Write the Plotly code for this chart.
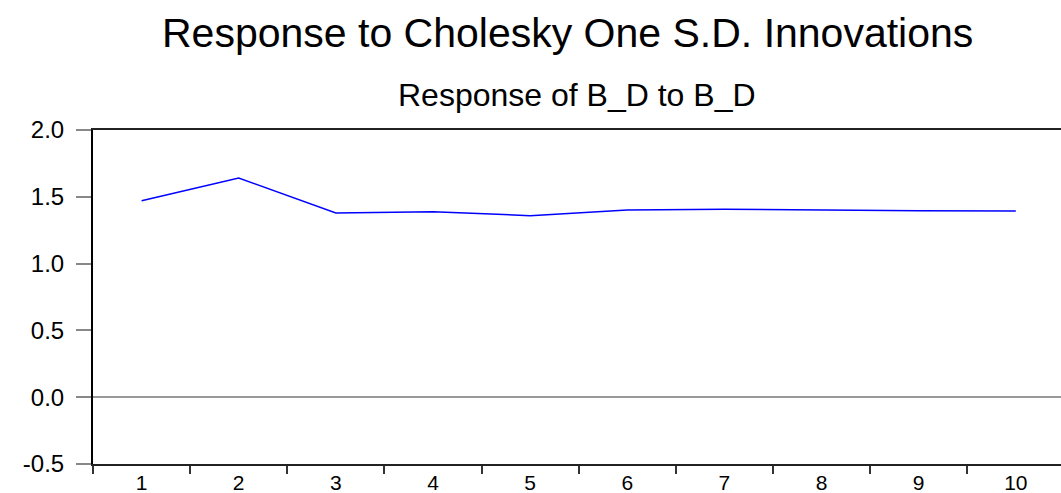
import plotly.graph_objects as go

periods = [1, 2, 3, 4, 5, 6, 7, 8, 9, 10]
period_labels = ["1", "2", "3", "4", "5", "6", "7", "8", "9", "10"]
response_bd_to_bd = [1.471, 1.641, 1.379, 1.389, 1.359, 1.401, 1.407, 1.399, 1.396, 1.394]
y_ticks = [-0.5, 0.0, 0.5, 1.0, 1.5, 2.0]
y_tick_labels = ["-0.5", "0.0", "0.5", "1.0", "1.5", "2.0"]
minor_positions = [0.5, 1.5, 2.5, 3.5, 4.5, 5.5, 6.5, 7.5, 8.5, 9.5, 10.5]

main_title = "Response to Cholesky One S.D. Innovations"
sub_title = "Response of B_D to B_D"

FONT = "Liberation Sans, Arial, sans-serif"

fig = go.Figure()
fig.add_trace(go.Scatter(
    x=periods, y=response_bd_to_bd, mode="lines",
    line=dict(color="#0000FF", width=1.5),
    showlegend=False, hoverinfo="skip",
))

fig.update_layout(
    width=1061, height=493,
    margin=dict(l=93, r=0, t=130, b=29),
    paper_bgcolor="white", plot_bgcolor="white",
    font=dict(family=FONT, color="black"),
    xaxis=dict(
        range=[0.5, 10.465], automargin=False,
        tickmode="array", tickvals=periods, ticktext=period_labels,
        ticks="", showgrid=False, zeroline=False,
        showline=True, linecolor="#222222", linewidth=1.5, mirror=True,
        tickfont=dict(size=21, family=FONT, color="black"),
        ticklabelstandoff=-1,
        minor=dict(tickvals=minor_positions, ticks="outside", ticklen=8,
                   tickcolor="#333333", tickwidth=1.5, showgrid=False),
    ),
    yaxis=dict(
        range=[-0.5, 2.0], automargin=False,
        tickmode="array", tickvals=y_ticks, ticktext=y_tick_labels,
        ticks="outside", ticklen=15, tickcolor="#888888", tickwidth=1.5,
        showgrid=False,
        zeroline=True, zerolinecolor="#999999", zerolinewidth=1.5,
        showline=True, linecolor="black", linewidth=2,
        tickfont=dict(size=24, family=FONT, color="black"),
        ticklabelstandoff=7,
    ),
    annotations=[
        dict(text=main_title, xref="paper", yref="paper", x=0.49, y=(464 - 33) / 334,
             xanchor="center", yanchor="middle", showarrow=False,
             font=dict(size=41, family=FONT, color="black")),
        dict(text=sub_title, xref="paper", yref="paper", x=0.5, y=(464 - 95) / 334,
             xanchor="center", yanchor="middle", showarrow=False,
             font=dict(size=32, family=FONT, color="black")),
    ],
)

fig.write_html("out.html")
